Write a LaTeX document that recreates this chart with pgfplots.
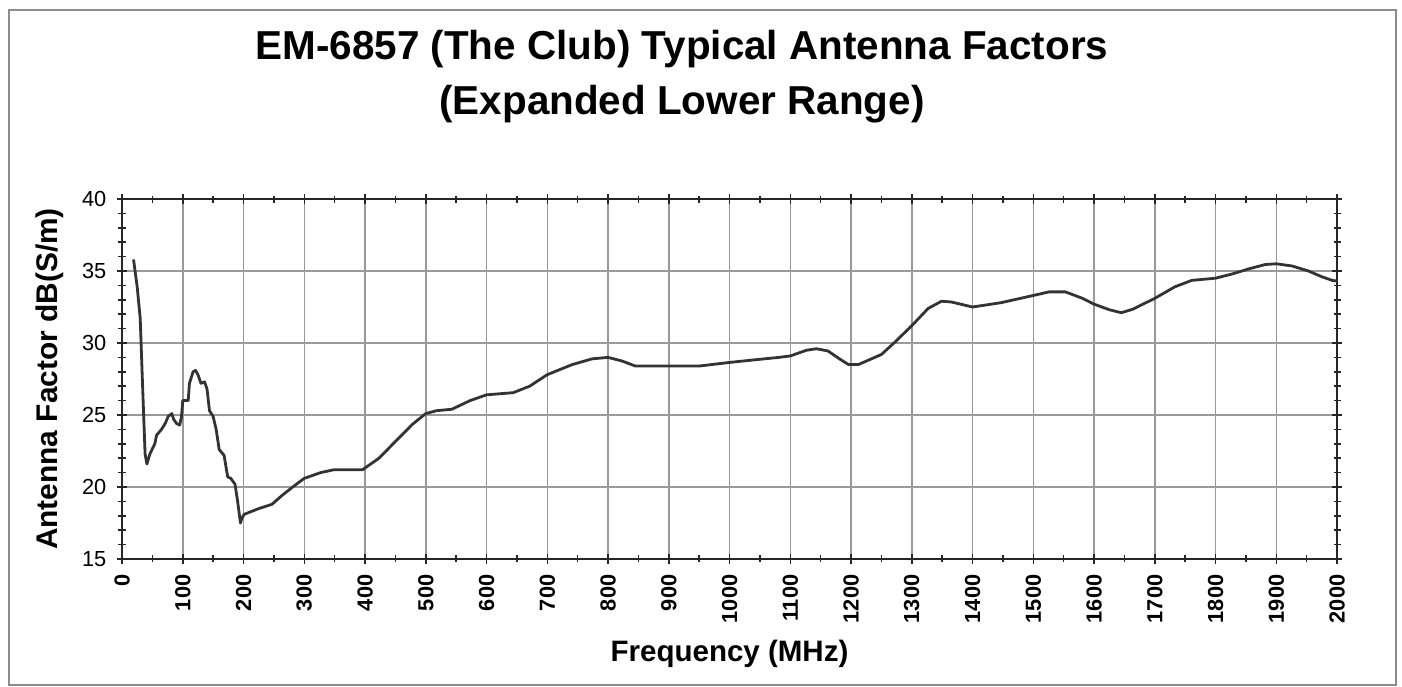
\documentclass[border=0pt]{standalone}
\usepackage{pgfplots}
\pgfplotsset{compat=1.18}
\usepackage{fontspec}
\setmainfont{Liberation Sans}
\begin{document}
\begin{tikzpicture}
\useasboundingbox (0,0) rectangle (140.2mm,68.7mm);
\draw[black!45, line width=0.2mm] (0.9mm,0.2mm) rectangle (139.6mm,67.7mm);
\node[anchor=base, inner sep=0pt] at (68.2mm,62.7mm) {\fontsize{11.5}{14}\selectfont\bfseries EM-6857 (The Club) Typical Antenna Factors};
\node[anchor=base, inner sep=0pt] at (68.2mm,57.2mm) {\fontsize{11.5}{14}\selectfont\bfseries (Expanded Lower Range)};
\begin{axis}[
  at={(12.2mm,12.8mm)}, anchor=south west,
  scale only axis, width=121.5mm, height=36mm,
  xmin=0, xmax=2000, ymin=15, ymax=40,
  xtick distance=100, ytick={15,20,25,30,35,40},
  minor x tick num=1, minor y tick num=4,
  grid=major,
  major grid style={black!40, line width=0.15mm},
  axis line style={black!85, line width=0.2mm},
  tick style={black!85, line width=0.15mm},
  tick align=center,
  major tick length=1.0mm, minor tick length=0.7mm,
  /pgf/number format/assume math mode=true,
  /pgf/number format/set thousands separator={},
  xticklabel style={rotate=90, anchor=east, inner sep=0pt, font=\fontsize{6.2}{7}\selectfont\bfseries},
  yticklabel style={anchor=east, inner sep=0pt, font=\fontsize{6.2}{7}\selectfont},
  xticklabel shift=1.0mm,
  yticklabel shift=1.0mm,
  xlabel={Frequency (MHz)},
  ylabel={Antenna Factor dB(S/m)},
  xlabel style={at={(axis description cs:0.5,-0.286)}, anchor=base, inner sep=0pt, font=\fontsize{8.4}{10}\selectfont\bfseries},
  ylabel style={at={(axis description cs:-0.0527,0.5)}, anchor=base, inner sep=0pt, font=\fontsize{8.5}{10}\selectfont\bfseries},
]
\addplot[black!80, line width=0.28mm, line join=round] table {
19 35.8
25 33.9
30 31.7
34 26.9
38 22.3
41 21.6
46 22.3
54 23.0
57 23.6
65 24.0
71 24.4
76 24.9
82 25.1
85 24.7
90 24.4
95 24.3
98 24.9
100 26.0
109 26.0
111 27.2
117 28.0
121 28.1
125 27.8
130 27.2
136 27.3
140 26.8
144 25.3
150 24.9
155 24.0
160 22.6
168 22.2
174 20.7
179 20.6
186 20.2
190 19.1
195 17.5
197 17.8
201 18.1
225 18.5
247 18.8
263 19.4
281 20.0
300 20.6
327 21.0
349 21.2
396 21.2
423 22.0
451 23.2
478 24.35
500 25.1
518 25.3
543 25.4
573 26.0
600 26.4
644 26.55
671 27.0
700 27.8
741 28.5
774 28.9
800 29.0
823 28.75
845 28.4
900 28.4
950 28.4
1000 28.65
1034 28.8
1081 29.0
1100 29.1
1127 29.5
1143 29.6
1162 29.45
1181 28.9
1196 28.5
1212 28.5
1250 29.2
1272 30.05
1300 31.2
1327 32.4
1349 32.9
1365 32.85
1400 32.5
1447 32.8
1500 33.3
1526 33.55
1553 33.55
1581 33.1
1600 32.7
1626 32.3
1645 32.1
1664 32.35
1700 33.1
1733 33.9
1761 34.35
1800 34.5
1828 34.8
1855 35.15
1882 35.45
1900 35.5
1926 35.35
1953 35.0
1975 34.6
1992 34.35
2000 34.3
};
\end{axis}
\end{tikzpicture}
\end{document}
